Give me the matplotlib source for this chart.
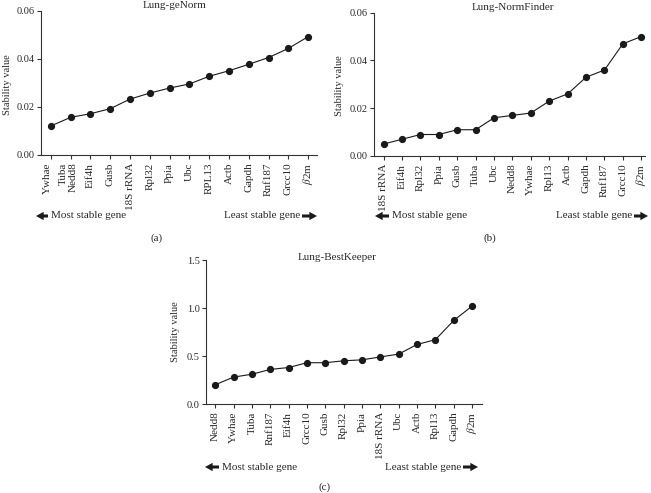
import matplotlib
matplotlib.use('Agg')
import matplotlib.pyplot as plt

plt.rcParams['font.family'] = ['Liberation Serif', 'DejaVu Sans']
plt.rcParams['mathtext.fontset'] = 'stix'

# geNorm: Tuba and Nedd8 share the second point
gn_genes = ['Ywhae', 'Tuba', 'Nedd8', 'Eif4h', 'Gusb', '18S rRNA', 'Rpl32', 'Ppia',
            'Ubc', 'RPL13', 'Actb', 'Gapdh', 'Rnf187', 'Grcc10', r'$\beta$2m']
gn_values = [0.0121, 0.0157, 0.0172, 0.0193, 0.0233, 0.0258, 0.0279, 0.0296,
             0.0328, 0.0351, 0.0378, 0.0406, 0.0444, 0.0493]

nf_genes = ['18S rRNA', 'Eif4h', 'Rpl32', 'Ppia', 'Gusb', 'Tuba', 'Ubc', 'Nedd8',
            'Ywhae', 'Rpl13', 'Actb', 'Gapdh', 'Rnf187', 'Grcc10', r'$\beta$2m']
nf_values = [0.005, 0.007, 0.009, 0.009, 0.011, 0.011, 0.016, 0.017,
             0.018, 0.023, 0.026, 0.033, 0.036, 0.047, 0.050]

bk_genes = ['Nedd8', 'Ywhae', 'Tuba', 'Rnf187', 'Eif4h', 'Grcc10', 'Gusb', 'Rpl32',
            'Ppia', '18S rRNA', 'Ubc', 'Actb', 'Rpl13', 'Gapdh', r'$\beta$2m']
bk_values = [0.20, 0.28, 0.31, 0.36, 0.38, 0.43, 0.43, 0.45,
             0.46, 0.49, 0.52, 0.62, 0.67, 0.87, 1.02]

W, H = 651, 493
TXT = '#2a2a2a'
fig = plt.figure(figsize=(W / 100, H / 100), dpi=100)


def add_ax(l, r, t, b):
    return fig.add_axes([l / W, 1 - b / H, (r - l) / W, (b - t) / H])


def ftext(x, y, s, **kw):
    kw.setdefault('color', TXT)
    kw.setdefault('fontsize', 8)
    fig.text(x / W, 1 - y / H, s, **kw)


def arrow(x_tail, x_tip, y):
    fig.add_artist(matplotlib.patches.FancyArrowPatch(
        (x_tail / W, 1 - y / H), (x_tip / W, 1 - y / H), transform=fig.transFigure,
        arrowstyle='simple,head_width=0.6,head_length=0.55,tail_width=0.22',
        mutation_scale=10, color='#1a1a1a', lw=0, shrinkA=0, shrinkB=0))


def panel(ax, values, label_pos, labels, xlim, ylim, yticks, yfmt):
    xs = list(range(len(values)))
    ax.plot(xs, values, '-o', color='#1a1a1a', lw=0.8, ms=4.2)
    ax.set_xlim(*xlim)
    ax.set_ylim(*ylim)
    ax.set_yticks(yticks)
    ax.set_yticklabels([yfmt.format(v) for v in yticks])
    ax.set_xticks(xs)
    ax.set_xticklabels([])
    ax.xaxis.remove_overlapping_locs = False
    ax.set_xticks(label_pos, minor=True)
    ax.set_xticklabels(labels, minor=True, rotation=90, va='top', ha='center')
    ax.tick_params(axis='x', which='minor', length=0, pad=5.5, labelsize=8, labelcolor=TXT)
    ax.tick_params(axis='x', which='major', length=3, width=0.8, color='#333333')
    ax.tick_params(axis='y', length=3, width=0.8, pad=1.5, labelsize=7.5,
                   labelcolor=TXT, color='#333333')
    for s in ['top', 'right']:
        ax.spines[s].set_visible(False)
    for s in ['left', 'bottom']:
        ax.spines[s].set_linewidth(0.8)
        ax.spines[s].set_color('#333333')


# (a) geNorm
ax1 = add_ax(41, 317, 11, 155)
gn_pos = [-0.2, 0.65, 1.15] + list(range(2, len(gn_values)))
panel(ax1, gn_values, gn_pos, gn_genes, (-0.5, 13.45), (0, 0.06),
      [0, 0.02, 0.04, 0.06], '{:.2f}')

# (b) NormFinder
ax2 = add_ax(374, 645, 12.7, 156)
panel(ax2, nf_values, list(range(len(nf_values))), nf_genes, (-0.52, 14.2), (0, 0.06),
      [0, 0.02, 0.04, 0.06], '{:.2f}')

# (c) BestKeeper
ax3 = add_ax(206, 482, 260, 404)
panel(ax3, bk_values, list(range(len(bk_values))), bk_genes, (-0.5, 14.54), (0, 1.5),
      [0, 0.5, 1.0, 1.5], '{:.1f}')

# titles
ftext(175, 5, 'Lung-geNorm', ha='center', va='center')
ftext(513, 7, 'Lung-NormFinder', ha='center', va='center')
ftext(337, 257, 'Lung-BestKeeper', ha='center', va='center')

# y labels
ftext(8, 85, 'Stability value', rotation=90, ha='center', va='center', fontsize=7.5)
ftext(340, 86, 'Stability value', rotation=90, ha='center', va='center', fontsize=7.5)
ftext(175, 332, 'Stability value', rotation=90, ha='center', va='center', fontsize=7.5)

# arrow rows: (left arrow x, most-stable text x, least-stable text right x, right arrow end x, y)
for (xa, xt, xr, xe, y) in [(36, 51, 300, 317, 216), (375, 392, 632, 648, 216),
                            (205, 222, 461, 478, 467)]:
    arrow(xt - 3, xa, y)
    ftext(xt, y, 'Most stable gene', ha='left', va='center')
    ftext(xr, y, 'Least stable gene', ha='right', va='center')
    arrow(xr + 2, xe, y)

# panel letters
ftext(157, 238, '(a)', ha='center', va='center')
ftext(490, 238, '(b)', ha='center', va='center')
ftext(325, 487, '(c)', ha='center', va='center')

fig.savefig('out.png', dpi=100)
